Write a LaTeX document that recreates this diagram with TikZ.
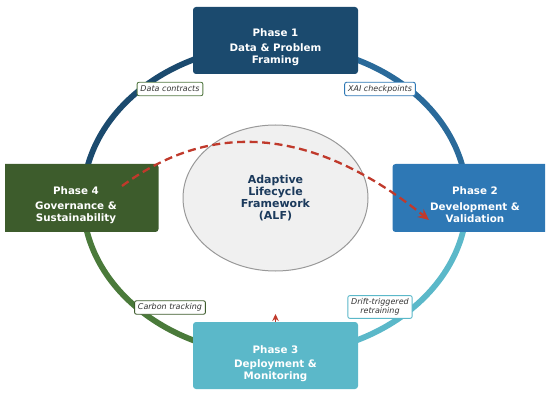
\documentclass[tikz,border=0pt]{standalone}
\usepackage{fontspec}
\setmainfont{DejaVu Sans}
\usetikzlibrary{arrows.meta,shapes.geometric}
\definecolor{pone}{HTML}{1B4A6E}
\definecolor{ptwo}{HTML}{2E78B5}
\definecolor{pthree}{HTML}{5BB8C9}
\definecolor{pfour}{HTML}{3D5C2C}
\definecolor{ringtr}{HTML}{2A6A9A}
\definecolor{ringbl}{HTML}{4A7A3A}
\definecolor{lblgreen}{HTML}{557A45}
\definecolor{alfred}{HTML}{C0392B}
\definecolor{alfnavy}{HTML}{1B3A5C}
\definecolor{lbltext}{HTML}{333333}
\tikzset{
  ring/.style={line width=5.8pt},
  phasebox/.style={rounded corners=3pt, minimum width=165pt, minimum height=67pt, inner sep=0pt},
  phasetitle/.style={text=white, font=\fontsize{10.3}{12.5}\selectfont\bfseries, inner sep=0pt},
  phasesub/.style={text=white, font=\fontsize{10.3}{12.2}\selectfont\bfseries, align=center, inner sep=0pt},
  lbl/.style={draw, fill=white, rounded corners=2pt, line width=0.9pt, text=lbltext,
    font=\fontsize{8}{9.4}\selectfont\itshape, align=center, inner xsep=3.4pt, inner ysep=2.8pt},
  lblone/.style={lbl, text height=6pt, text depth=1.9pt},
  feedback/.style={alfred, line width=2.3pt, dash pattern=on 8pt off 4.5pt, -{Stealth[length=11pt,width=10pt]}}
}
\begin{document}
\begin{tikzpicture}[x=1pt,y=-1pt]
\useasboundingbox (0,0) rectangle (550,396);
% ring
\coordinate (rc) at (275,200);
\draw[ring, pone] (83,200) arc[start angle=180, end angle=90, x radius=192pt, y radius=155pt];
\draw[ring, ringtr] (275,45) arc[start angle=90, end angle=0, x radius=192pt, y radius=155pt];
\draw[ring, pthree] (467,200) arc[start angle=0, end angle=-90, x radius=192pt, y radius=155pt];
\draw[ring, ringbl] (275,355) arc[start angle=-90, end angle=-180, x radius=192pt, y radius=155pt];
% labels
\node[lblone, draw=lblgreen] (l1) at (170,89) {Data contracts};
\node[lblone, draw=ptwo] (l2) at (380,89) {XAI checkpoints};
\node[lblone, draw=pfour] (l4) at (170,307.5) {Carbon tracking};
\node[lbl, draw=pthree] (l3) at (380,307) {Drift-triggered\\retraining};
% centre
\node[ellipse, draw=black!40, line width=1pt, fill=black!6, minimum width=185pt, minimum height=146pt, inner sep=0pt] (alf) at (275.5,198) {};
\node[text=alfnavy, font=\fontsize{11}{12.3}\selectfont\bfseries, align=center, inner sep=0pt] (alft) at (275.5,198) {Adaptive\\Lifecycle\\Framework\\(ALF)};
% phases
\node[phasebox, fill=pone] (p1) at (275.5,40.5) {};
\node[phasebox, fill=pthree] (p3) at (275.5,355.5) {};
\begin{scope}
\clip (5,0) rectangle (545,396);
\node[phasebox, fill=ptwo, minimum height=68pt] (p2) at (475,198) {};
\node[phasebox, fill=pfour, minimum height=68pt] (p4) at (76,198) {};
\end{scope}
\node[phasetitle] (p1t) at ([yshift=7.5pt]p1.center) {Phase 1};
\node[phasesub] (p1s) at ([yshift=-14pt]p1.center) {Data \& Problem\\Framing};
\node[phasetitle] (p2t) at ([yshift=7pt]p2.center) {Phase 2};
\node[phasesub] (p2s) at ([yshift=-15pt]p2.center) {Development \&\\Validation};
\node[phasetitle] (p3t) at ([yshift=6pt]p3.center) {Phase 3};
\node[phasesub] (p3s) at ([yshift=-15pt]p3.center) {Deployment \&\\Monitoring};
\node[phasetitle] (p4t) at ([yshift=7pt]p4.center) {Phase 4};
\node[phasesub] (p4s) at ([yshift=-15pt]p4.center) {Governance \&\\Sustainability};
% feedback arrow
\coordinate (fbs) at (122,186);
\coordinate (fbe) at (429,220);
\draw[feedback] (fbs) .. controls (214,118) and (316,129) .. (fbe);
% small arrow at phase 3
\coordinate (sa) at (275.5,314);
\draw[alfred, line width=1pt, -{Stealth[length=7pt,width=6.5pt]}] (p3.north) -- (sa);
\end{tikzpicture}
\end{document}
